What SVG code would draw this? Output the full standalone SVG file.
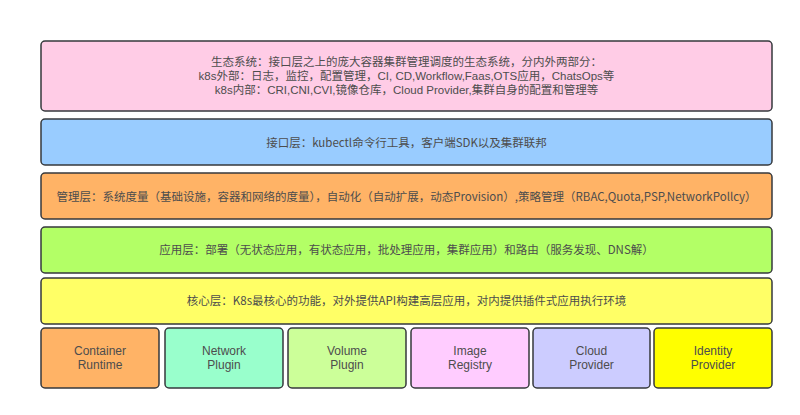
<svg xmlns="http://www.w3.org/2000/svg" width="800" height="415" viewBox="0 0 800 415">
<style>
.b{stroke:#36393d;stroke-width:1.5}
.t{font-family:"Noto Sans CJK SC","Liberation Sans",sans-serif;font-size:11.5px;fill:#4d4d4d;text-anchor:middle;dominant-baseline:central}
.m{font-family:"Liberation Sans","Noto Sans CJK SC",sans-serif}
.s{font-family:"Liberation Sans",sans-serif;font-size:12px}
</style>
<rect width="800" height="415" fill="#ffffff"/>
<g id="ecosystem">
<rect class="b" x="41" y="41" width="731" height="70" rx="4" fill="#ffcce6"/>
<text class="t m" x="406.5" y="62">生态系统：接口层之上的庞大容器集群管理调度的生态系统，分内外两部分：</text>
<text class="t m" x="406.5" y="76">k8s外部：日志，监控，配置管理，CI, CD,Workflow,Faas,OTS应用，ChatsOps等</text>
<text class="t m" x="406.5" y="90">k8s内部：CRI,CNI,CVI,镜像仓库，Cloud Provider,集群自身的配置和管理等</text>
</g>
<g id="interface">
<rect class="b" x="41" y="119" width="731" height="46" rx="4" fill="#99ccff"/>
<text class="t" x="406.5" y="142">接口层：kubectl命令行工具，客户端SDK以及集群联邦</text>
</g>
<g id="management">
<rect class="b" x="41" y="173" width="731" height="46" rx="4" fill="#ffb366"/>
<text class="t" x="406.5" y="196">管理层：系统度量（基础设施，容器和网络的度量），自动化（自动扩展，动态Provision）,策略管理（RBAC,Quota,PSP,NetworkPollcy）</text>
</g>
<g id="application">
<rect class="b" x="41" y="227" width="731" height="46" rx="4" fill="#b3ff66"/>
<text class="t" x="406.5" y="249">应用层：部署（无状态应用，有状态应用，批处理应用，集群应用）和路由（服务发现、DNS解）</text>
</g>
<g id="core">
<rect class="b" x="41" y="278" width="731" height="46" rx="4" fill="#ffff66"/>
<text class="t" x="406.5" y="300">核心层：K8s最核心的功能，对外提供API构建高层应用，对内提供插件式应用执行环境</text>
</g>
<g id="container-runtime">
<rect class="b" x="41" y="328" width="118" height="60" rx="4" fill="#ffb366"/>
<text class="t s" x="100" y="351">Container</text>
<text class="t s" x="100" y="365">Runtime</text>
</g>
<g id="network-plugin">
<rect class="b" x="165" y="328" width="118" height="60" rx="4" fill="#99ffcc"/>
<text class="t s" x="224" y="351">Network</text>
<text class="t s" x="224" y="365">Plugin</text>
</g>
<g id="volume-plugin">
<rect class="b" x="288" y="328" width="118" height="60" rx="4" fill="#ccff99"/>
<text class="t s" x="347" y="351">Volume</text>
<text class="t s" x="347" y="365">Plugin</text>
</g>
<g id="image-registry">
<rect class="b" x="411" y="328" width="118" height="60" rx="4" fill="#ffccff"/>
<text class="t s" x="470" y="351">Image</text>
<text class="t s" x="470" y="365">Registry</text>
</g>
<g id="cloud-provider">
<rect class="b" x="533" y="328" width="117" height="60" rx="4" fill="#ccccff"/>
<text class="t s" x="591.5" y="351">Cloud</text>
<text class="t s" x="591.5" y="365">Provider</text>
</g>
<g id="identity-provider">
<rect class="b" x="654" y="328" width="118" height="60" rx="4" fill="#ffff00"/>
<text class="t s" x="713" y="351">Identity</text>
<text class="t s" x="713" y="365">Provider</text>
</g>
<g id="connectors"></g>
</svg>
